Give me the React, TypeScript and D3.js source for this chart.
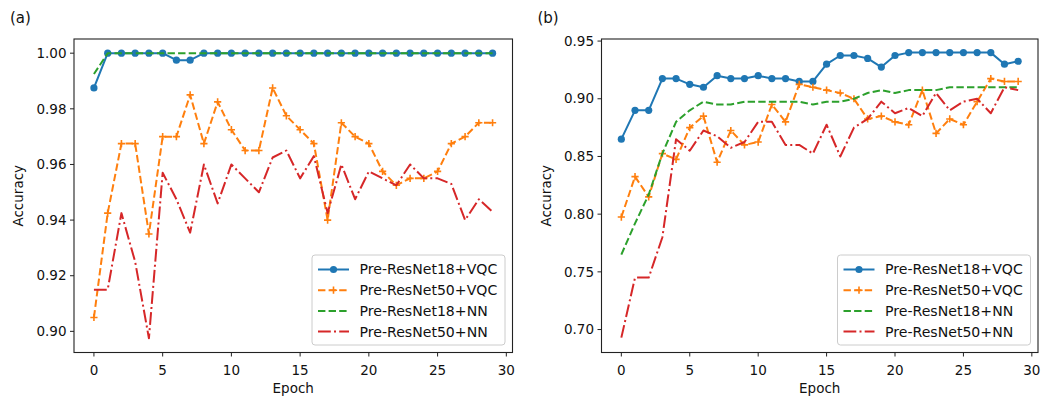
import React from "react";
import * as d3 from "d3";

const epochs = [0,1,2,3,4,5,6,7,8,9,10,11,12,13,14,15,16,17,18,19,20,21,22,23,24,25,26,27,28,29];

const aResNet18VQC = [0.9875,1,1,1,1,1,0.9975,0.9975,1,1,1,1,1,1,1,1,1,1,1,1,1,1,1,1,1,1,1,1,1,1];
const aResNet50VQC = [0.905,0.9425,0.9675,0.9675,0.935,0.97,0.97,0.985,0.9675,0.9825,0.9725,0.965,0.965,0.9875,0.9775,0.9725,0.9675,0.94,0.975,0.97,0.9675,0.9575,0.9525,0.955,0.955,0.9575,0.9675,0.97,0.975,0.975];
const aResNet18NN = [0.9925,1,1,1,1,1,1,1,1,1,1,1,1,1,1,1,1,1,1,1,1,1,1,1,1,1,1,1,1,1];
const aResNet50NN = [0.915,0.915,0.9425,0.925,0.8975,0.957,0.9475,0.9355,0.96,0.946,0.96,0.955,0.95,0.9625,0.965,0.955,0.963,0.9425,0.96,0.9475,0.9575,0.955,0.9525,0.96,0.955,0.955,0.953,0.94,0.9475,0.943];

const bResNet18VQC = [0.865,0.89,0.89,0.9175,0.9175,0.9125,0.91,0.92,0.9175,0.9175,0.92,0.9175,0.9175,0.915,0.915,0.93,0.9375,0.9375,0.935,0.9275,0.9375,0.94,0.94,0.94,0.94,0.94,0.94,0.94,0.93,0.9325];
const bResNet50VQC = [0.7975,0.8325,0.815,0.8525,0.8475,0.875,0.885,0.845,0.8725,0.86,0.8625,0.895,0.88,0.9125,0.91,0.9075,0.905,0.9,0.8825,0.885,0.88,0.8775,0.9075,0.87,0.8825,0.8775,0.8975,0.9175,0.915,0.915];
const bResNet18NN = [0.765,0.792,0.817,0.8525,0.88,0.89,0.8975,0.895,0.895,0.8975,0.8975,0.8975,0.8975,0.8975,0.895,0.8975,0.8975,0.9,0.905,0.9075,0.905,0.9075,0.9075,0.9075,0.91,0.91,0.91,0.91,0.91,0.91];
const bResNet50NN = [0.693,0.745,0.745,0.78,0.865,0.855,0.8725,0.8675,0.8575,0.8625,0.88,0.88,0.86,0.86,0.8525,0.8775,0.85,0.875,0.8825,0.8975,0.8875,0.892,0.885,0.905,0.89,0.8975,0.9,0.8875,0.91,0.9075];

const seriesNames = ["Pre-ResNet18+VQC", "Pre-ResNet50+VQC", "Pre-ResNet18+NN", "Pre-ResNet50+NN"];
const xTicks = [0, 5, 10, 15, 20, 25, 30];
const aYTicks = [0.90, 0.92, 0.94, 0.96, 0.98, 1.00];
const bYTicks = [0.70, 0.75, 0.80, 0.85, 0.90, 0.95];

const styles = [
  { color: "#1f77b4", dash: "none", marker: "circle" },
  { color: "#ff7f0e", dash: "7.4,3.2", marker: "plus" },
  { color: "#2ca02c", dash: "7.4,3.2", marker: "none" },
  { color: "#d62728", dash: "12.8,3.2,2,3.2", marker: "none" },
];

const FONT = "DejaVu Sans, sans-serif";
const FS = 13.5;
const LFS = 14.1;

function Marker({ kind, x, y, color }: { kind: string; x: number; y: number; color: string }) {
  if (kind === "circle") return <circle cx={x} cy={y} r={3.6} fill={color} />;
  if (kind === "plus")
    return (
      <path d={`M${x - 3.6},${y}H${x + 3.6}M${x},${y - 3.6}V${y + 3.6}`} stroke={color} strokeWidth={1.6} />
    );
  return null;
}

function Panel(props: {
  left: number; right: number; top: number; bottom: number;
  yDomain: [number, number]; yTicks: number[]; data: number[][]; tag: string;
}) {
  const { left, right, top, bottom, yDomain, yTicks, data, tag } = props;
  const x = d3.scaleLinear().domain([-1.45, 30.45]).range([left, right]);
  const y = d3.scaleLinear().domain(yDomain).range([bottom, top]);
  const line = d3.line<number>().x((_, i) => x(epochs[i])).y((d) => y(d));
  const fmt = d3.format(".2f");
  const legW = 193, legH = 90;
  const legX = right - 7.5 - legW, legY = bottom - 7.5 - legH;
  return (
    <g>
      <text x={left - 64} y={23} fontFamily={FONT} fontSize={15} fill="#111">{tag}</text>
      <defs>
        <clipPath id={`clip-${tag}`}>
          <rect x={left} y={top} width={right - left} height={bottom - top} />
        </clipPath>
      </defs>
      <g clipPath={`url(#clip-${tag})`}>
        {data.map((s, k) => (
          <g key={k}>
            <path d={line(s) || ""} fill="none" stroke={styles[k].color} strokeWidth={2}
              strokeDasharray={styles[k].dash} strokeLinejoin="round" />
            {s.map((v, i) => (
              <Marker key={i} kind={styles[k].marker} x={x(epochs[i])} y={y(v)} color={styles[k].color} />
            ))}
          </g>
        ))}
      </g>
      <rect x={left} y={top} width={right - left} height={bottom - top} fill="none" stroke="#222" strokeWidth={1.1} />
      {xTicks.map((t) => (
        <g key={t}>
          <line x1={x(t)} x2={x(t)} y1={bottom} y2={bottom + 4} stroke="#222" strokeWidth={1} />
          <text x={x(t)} y={bottom + 22} textAnchor="middle" fontFamily={FONT} fontSize={FS} fill="#111">{t}</text>
        </g>
      ))}
      {yTicks.map((t) => (
        <g key={t}>
          <line x1={left - 4} x2={left} y1={y(t)} y2={y(t)} stroke="#222" strokeWidth={1} />
          <text x={left - 7.5} y={y(t)} dy="0.35em" textAnchor="end" fontFamily={FONT} fontSize={FS} fill="#111">{fmt(t)}</text>
        </g>
      ))}
      <text x={(left + right) / 2} y={bottom + 40} textAnchor="middle" fontFamily={FONT} fontSize={FS} fill="#111">Epoch</text>
      <text transform={`translate(${left - 51},${(top + bottom) / 2}) rotate(-90)`} textAnchor="middle"
        fontFamily={FONT} fontSize={FS} fill="#111">Accuracy</text>
      <g>
        <rect x={legX} y={legY} width={legW} height={legH} rx={3} fill="white" fillOpacity={0.85} stroke="#cccccc" strokeWidth={1} />
        {seriesNames.map((n, k) => {
          const ry = legY + 14.5 + k * 20.7;
          const lx0 = legX + 6, lx1 = legX + 37;
          return (
            <g key={n}>
              <line x1={lx0} x2={lx1} y1={ry} y2={ry} stroke={styles[k].color} strokeWidth={2} strokeDasharray={styles[k].dash} />
              <Marker kind={styles[k].marker} x={(lx0 + lx1) / 2} y={ry} color={styles[k].color} />
              <text x={legX + 47.5} y={ry} dy="0.35em" fontFamily={FONT} fontSize={LFS} fill="#111">{n}</text>
            </g>
          );
        })}
      </g>
    </g>
  );
}

export default function App() {
  return (
    <svg width={1042} height={398} style={{ position: "absolute", left: 0, top: 0, background: "white" }}>
      <rect width={1042} height={398} fill="white" />
      <Panel left={74} right={512.5} top={39} bottom={352.5} yDomain={[0.8924, 1.0051]} yTicks={aYTicks}
        data={[aResNet18VQC, aResNet50VQC, aResNet18NN, aResNet50NN]} tag="(a)" />
      <Panel left={601.5} right={1038} top={39} bottom={352.5} yDomain={[0.6801, 0.9518]} yTicks={bYTicks}
        data={[bResNet18VQC, bResNet50VQC, bResNet18NN, bResNet50NN]} tag="(b)" />
    </svg>
  );
}
